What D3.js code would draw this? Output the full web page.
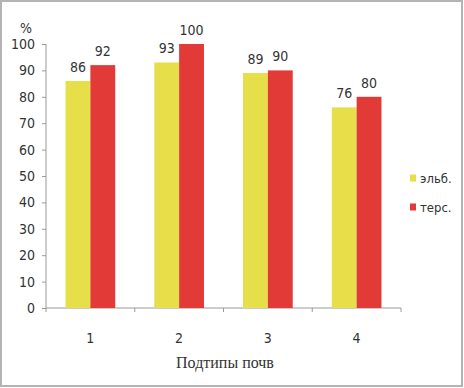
<!DOCTYPE html>
<html>
<head>
<meta charset="utf-8">
<script src="https://cdn.jsdelivr.net/npm/d3@7"></script>
<style>
  body { margin: 0; background: #fff; }
  svg text { font-family: "Liberation Sans Narrow", "DejaVu Sans Condensed", sans-serif; fill: #333; }
</style>
</head>
<body>
<svg id="chart"></svg>
<script>
const categories = ['1', '2', '3', '4']
const seriesNames = ['эльб.', 'терс.']
const elb = [86, 93, 89, 76]
const ters = [92, 100, 90, 80]
const yTicks = [0, 10, 20, 30, 40, 50, 60, 70, 80, 90, 100]
const colors = ['#e6df4a', '#e23a36']

const width = 464
const height = 388

const svg = d3.select('svg#chart')
  .attr('width', width)
  .attr('height', height)

// outer frame
svg.append('rect')
  .attr('x', 1).attr('y', 1)
  .attr('width', 461).attr('height', 385)
  .attr('fill', 'none')
  .attr('stroke', '#b4b4b4')
  .attr('stroke-width', 2)

const plotLeft = 46, plotRight = 401, plotTop = 44, plotBottom = 308

const x = d3.scaleBand()
  .domain(categories)
  .range([plotLeft, plotRight])
  .paddingInner(0.44)
  .paddingOuter(0.22)

const xSub = d3.scaleBand()
  .domain(seriesNames)
  .range([0, x.bandwidth()])

const y = d3.scaleLinear()
  .domain([0, 100])
  .range([plotBottom, plotTop])

// y axis
const yAxis = svg.append('g')
  .attr('transform', 'translate(' + plotLeft + ',0)')
  .call(d3.axisLeft(y).tickValues(yTicks).tickSize(4).tickPadding(7))
yAxis.selectAll('line, path').attr('stroke', '#9a9a9a')
yAxis.select('.domain').attr('d', 'M0,' + plotTop + 'V' + plotBottom)
yAxis.selectAll('text').style('font-size', '14px').attr('fill', '#333')

svg.append('text')
  .attr('x', 26).attr('y', 33)
  .attr('text-anchor', 'middle')
  .style('font-size', '14px')
  .text('%')

// x axis line with ticks at band boundaries
const step = x.step()
const boundaries = d3.range(categories.length + 1).map(i => plotLeft + i * step)
const xg = svg.append('g')
xg.append('line')
  .attr('x1', plotLeft).attr('x2', plotRight)
  .attr('y1', plotBottom).attr('y2', plotBottom)
  .attr('stroke', '#9a9a9a')
xg.selectAll('.tk').data(boundaries).enter().append('line')
  .attr('x1', d => d).attr('x2', d => d)
  .attr('y1', plotBottom).attr('y2', plotBottom + 4)
  .attr('stroke', '#9a9a9a')
xg.selectAll('.lbl').data(categories).enter().append('text')
  .attr('x', d => x(d) + x.bandwidth() / 2)
  .attr('y', 343)
  .attr('text-anchor', 'middle')
  .style('font-size', '14px')
  .text(d => d)

svg.append('text')
  .attr('x', 225).attr('y', 368)
  .attr('text-anchor', 'middle')
  .style('font-family', '"Liberation Serif", "DejaVu Serif", serif')
  .style('font-size', '16px')
  .text('Подтипы почв')

// bars
const rows = categories.map((c, i) => ({ cat: c, vals: [elb[i], ters[i]] }))
const groups = svg.selectAll('.grp').data(rows).enter().append('g')
  .attr('transform', d => 'translate(' + x(d.cat) + ',0)')

groups.selectAll('rect')
  .data(d => d.vals.map((v, j) => ({ name: seriesNames[j], v, j })))
  .enter().append('rect')
  .attr('x', d => xSub(d.name))
  .attr('y', d => y(d.v))
  .attr('width', xSub.bandwidth())
  .attr('height', d => plotBottom - y(d.v))
  .attr('fill', d => colors[d.j])

groups.selectAll('.val')
  .data(d => d.vals.map((v, j) => ({ name: seriesNames[j], v, j })))
  .enter().append('text')
  .attr('x', d => xSub(d.name) + xSub.bandwidth() / 2)
  .attr('y', d => y(d.v) - 9)
  .attr('text-anchor', 'middle')
  .style('font-size', '14px')
  .text(d => d.v)

// legend
const legend = svg.append('g')
seriesNames.forEach((n, i) => {
  const ly = 178 + i * 29
  legend.append('rect')
    .attr('x', 410).attr('y', ly - 3.5)
    .attr('width', 6).attr('height', 7)
    .attr('fill', colors[i])
  legend.append('text')
    .attr('x', 420).attr('y', ly + 4.5)
    .style('font-size', '13px')
    .text(n)
})
</script>
</body>
</html>
